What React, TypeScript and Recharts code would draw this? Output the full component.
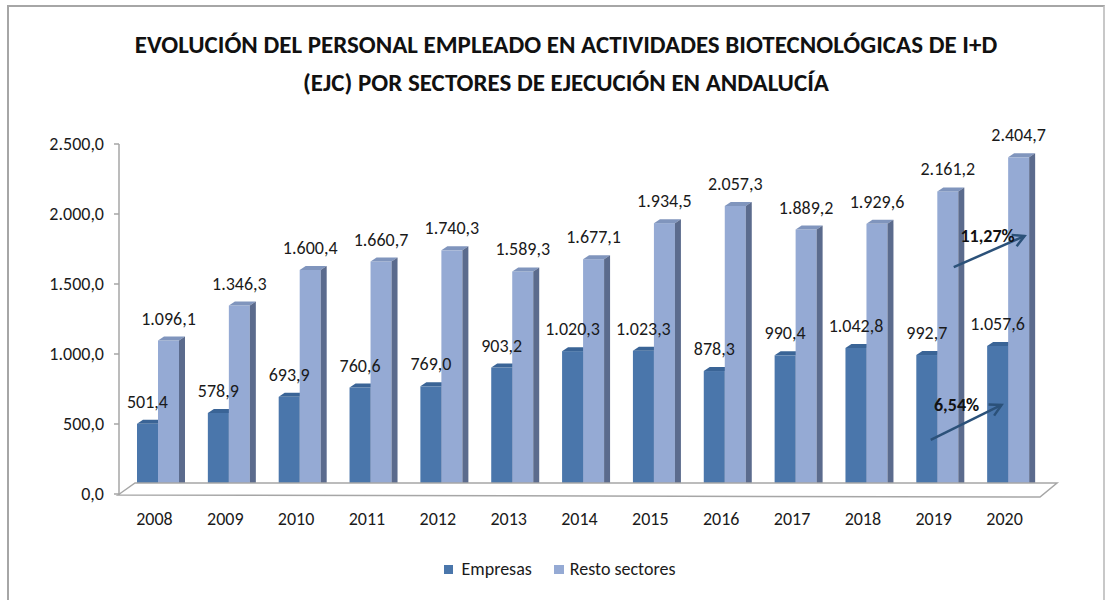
import React from 'react'
import { BarChart, Bar, XAxis, YAxis, LabelList, ReferenceLine, Legend } from 'recharts'

const years = ['2008', '2009', '2010', '2011', '2012', '2013', '2014', '2015', '2016', '2017', '2018', '2019', '2020']
const empresas = [501.4, 578.9, 693.9, 760.6, 769.0, 903.2, 1020.3, 1023.3, 878.3, 990.4, 1042.8, 992.7, 1057.6]
const resto = [1096.1, 1346.3, 1600.4, 1660.7, 1740.3, 1589.3, 1677.1, 1934.5, 2057.3, 1889.2, 1929.6, 2161.2, 2404.7]
const yTicks = [0, 500, 1000, 1500, 2000, 2500]

// growth arrows 2019 -> 2020 (start/end heights)
const arrowLabels = ['6,54%', '11,27%']
const arrowFrom = [386, 1620]
const arrowTo = [636, 1843]

const FONT = 'Carlito, Lato, sans-serif'
const FS = 18
const C_EMP = { front: '#4a76ab', top: '#3a6496', side: '#2f5282' }
const C_RES = { front: '#95aad4', top: '#8095bd', side: '#5b6b8d' }
const DEPTH = 6
const RISE = 4
const SHIFT = 4

const data = years.map((y, i) => ({ year: y, empresas: empresas[i], resto: resto[i] }))

function fmt(v: number) {
  const [i, d] = v.toFixed(1).split('.')
  return i.replace(/\B(?=(\d{3})+(?!\d))/g, '.') + ',' + d
}

function makeBar(c: { front: string; top: string; side: string }) {
  return (p: any) => {
    const { x, y, width, height } = p
    const x0 = x + SHIFT
    const x1 = x0 + width
    return (
      <g>
        <rect x={x0} y={y} width={width} height={height} fill={c.front} />
        <polygon points={`${x0},${y} ${x0 + DEPTH},${y - RISE} ${x1 + DEPTH},${y - RISE} ${x1},${y}`} fill={c.top} />
        <polygon points={`${x1},${y} ${x1 + DEPTH},${y - RISE} ${x1 + DEPTH},${y + height - RISE} ${x1},${y + height}`} fill={c.side} />
      </g>
    )
  }
}

function valueLabel(p: any) {
  const { x, y, width, value } = p
  return (
    <text x={x + SHIFT + width / 2} y={y - 16} textAnchor="middle" fill="#1a1a1a" fontSize={FS} fontFamily={FONT}>
      {fmt(value)}
    </text>
  )
}

function Floor(p: any) {
  const { x1, x2, y1 } = p
  return (
    <polygon
      points={`${x1 - 1},${y1 + 1} ${x1 + 16},${y1 - 11} ${x2 + 17},${y1 - 11} ${x2},${y1 + 3}`}
      fill="#ffffff"
      stroke="#a6a6a6"
      strokeWidth={1.5}
    />
  )
}

function arrowShape(label: string, dx: number, tdx: number) {
  return (p: any) => {
    const ax = p.x1 + dx, ay = p.y1, bx = p.x2 + dx, by = p.y2
    const ang = Math.atan2(by - ay, bx - ax)
    const L = 13
    const h1x = bx - L * Math.cos(ang - 0.5), h1y = by - L * Math.sin(ang - 0.5)
    const h2x = bx - L * Math.cos(ang + 0.5), h2y = by - L * Math.sin(ang + 0.5)
    return (
      <g>
        <line x1={ax} y1={ay} x2={bx} y2={by} stroke="#2b5179" strokeWidth={2.5} />
        <polyline points={`${h1x},${h1y} ${bx},${by} ${h2x},${h2y}`} fill="none" stroke="#2b5179" strokeWidth={2.5} />
        <text x={bx + tdx} y={by + 6} textAnchor="middle" fontSize={FS} fontWeight={700} fill="#111" fontFamily={FONT}>
          {label}
        </text>
      </g>
    )
  }
}

function LegendBox() {
  return (
    <div style={{ display: 'flex', alignItems: 'center', justifyContent: 'center', fontFamily: FONT, fontSize: FS, color: '#1a1a1a', paddingLeft: 14, lineHeight: '20px' }}>
      <span style={{ width: 9, height: 9, background: C_EMP.front, display: 'inline-block', marginRight: 9 }} />
      <span style={{ marginRight: 22 }}>Empresas</span>
      <span style={{ width: 10, height: 9, background: C_RES.front, display: 'inline-block', marginRight: 6 }} />
      <span>Resto sectores</span>
    </div>
  )
}

export default function App() {
  return (
    <div style={{ position: 'fixed', left: 0, top: 0, width: 1105, height: 600, overflow: 'hidden', background: '#fff' }}>
      <div style={{ position: 'absolute', left: 7, top: 5, width: 1094, height: 640, border: '2px solid #a6a6a6', borderRight: '2px solid #c8c8c8' }} />
      <div
        style={{
          position: 'absolute', left: 0, top: 26, width: 1132, textAlign: 'center',
          fontFamily: FONT, fontWeight: 700, fontSize: 25, lineHeight: '38px', color: '#111',
        }}
      >
        EVOLUCIÓN DEL PERSONAL EMPLEADO EN ACTIVIDADES BIOTECNOLÓGICAS DE I+D
        <br />
        (EJC) POR SECTORES DE EJECUCIÓN EN ANDALUCÍA
      </div>
      <div style={{ position: 'absolute', left: 0, top: 0 }}>
        <BarChart
          width={1105}
          height={600}
          data={data}
          margin={{ top: 144, right: 65, bottom: 46, left: 2 }}
          barGap={0}
          barSize={21}
        >
          <XAxis
            dataKey="year"
            axisLine={false}
            tickLine={false}
            tickSize={0}
            tickMargin={18}
            height={40}
            tick={{ fill: '#1a1a1a', fontSize: FS, fontFamily: FONT }}
          />
          <YAxis
            domain={[0, 2500]}
            ticks={yTicks}
            width={117}
            tickFormatter={fmt}
            axisLine={{ stroke: '#a6a6a6', strokeWidth: 1.5 }}
            tickLine={{ stroke: '#a6a6a6', strokeWidth: 1.5 }}
            tickSize={5}
            tickMargin={10}
            tick={{ fill: '#1a1a1a', fontSize: FS, fontFamily: FONT }}
          />
          <ReferenceLine y={0} shape={Floor} />
          <Bar dataKey="empresas" name="Empresas" fill={C_EMP.front} shape={makeBar(C_EMP)} isAnimationActive={false}>
            <LabelList dataKey="empresas" content={valueLabel} />
          </Bar>
          <Bar dataKey="resto" name="Resto sectores" fill={C_RES.front} shape={makeBar(C_RES)} isAnimationActive={false}>
            <LabelList dataKey="resto" content={valueLabel} />
          </Bar>
          <ReferenceLine
            segment={[{ x: '2019', y: arrowFrom[0] }, { x: '2020', y: arrowTo[0] }]}
            shape={arrowShape(arrowLabels[0], -3, -45)}
          />
          <ReferenceLine
            segment={[{ x: '2019', y: arrowFrom[1] }, { x: '2020', y: arrowTo[1] }]}
            shape={arrowShape(arrowLabels[1], 20, -37)}
          />
          <Legend content={LegendBox} wrapperStyle={{ top: 559, left: 0, width: 1105 }} />
        </BarChart>
      </div>
    </div>
  )
}
